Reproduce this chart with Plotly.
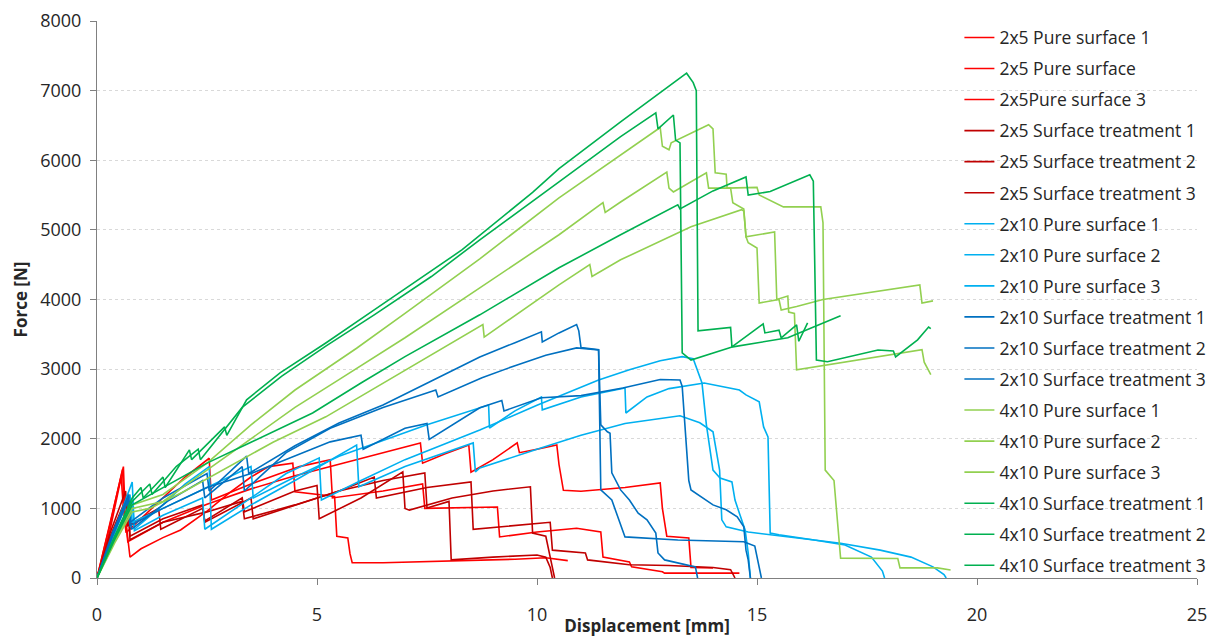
import plotly.graph_objects as go

# ---------------- data (displacement [mm], force [N]) ----------------
names = [
    "2x5 Pure surface 1", "2x5 Pure surface", "2x5Pure surface 3",
    "2x5 Surface treatment 1", "2x5 Surface treatment 2", "2x5 Surface treatment 3",
    "2x10 Pure surface 1", "2x10 Pure surface 2", "2x10 Pure surface 3",
    "2x10 Surface treatment 1", "2x10 Surface treatment 2", "2x10 Surface treatment 3",
    "4x10 Pure surface 1", "4x10 Pure surface 2", "4x10 Pure surface 3",
    "4x10 Surface treatment 1", "4x10 Surface treatment 2", "4x10 Surface treatment 3",
]
colors = ["#FF0000"] * 3 + ["#C00000"] * 3 + ["#00B0F0"] * 3 + ["#0070C0"] * 3 + ["#92D050"] * 3 + ["#00B050"] * 3

x_rp1 = [0, 0.3, 0.58, 0.62, 0.7, 1.5, 2.5, 3.5, 4.5, 5.5, 6.5, 7.35, 7.4, 7.9, 8.45, 8.5, 9.0, 9.55, 9.6, 10.0, 10.45, 10.5, 10.6, 11.0, 12.0, 12.8, 12.85, 12.95, 13.45, 13.5, 14.0]
f_rp1 = [0, 780, 1560, 1000, 520, 800, 1060, 1280, 1470, 1640, 1800, 1940, 1650, 1780, 1910, 1520, 1700, 1940, 1800, 1850, 1910, 1630, 1260, 1245, 1300, 1365, 1000, 600, 575, 150, 145]

x_rp2 = [0, 0.3, 0.6, 0.64, 0.75, 1.0, 1.5, 1.9, 2.5, 3.0, 3.5, 3.9, 4.45, 4.5, 5.0, 5.4, 5.45, 5.7, 5.75, 5.8, 6.5, 7.5, 8.5, 9.5, 10.2, 10.7]
f_rp2 = [0, 800, 1600, 900, 300, 420, 580, 690, 960, 1220, 1450, 1600, 1650, 1240, 1200, 1170, 600, 575, 350, 220, 220, 235, 250, 270, 290, 250]

x_rp3 = [0, 0.3, 0.55, 0.6, 0.66, 1.5, 2.0, 2.55, 2.6, 3.5, 4.6, 5.3, 5.35, 6.5, 7.4, 7.45, 8.2, 9.1, 9.15, 10.0, 10.9, 11.45, 11.5, 12.1, 12.15, 12.85, 12.9, 14.6]
f_rp3 = [0, 700, 1450, 1000, 650, 1150, 1450, 1720, 1120, 1350, 1600, 1700, 1150, 1250, 1350, 1000, 1010, 1020, 590, 660, 715, 660, 300, 230, 160, 90, 70, 70]

x_rs1 = [0, 0.3, 0.65, 0.7, 1.4, 1.45, 2.4, 2.45, 3.3, 3.35, 4.5, 5.0, 5.05, 6.0, 6.95, 7.0, 7.1, 8.07, 9.0, 9.85, 9.9, 10.2, 10.3, 10.4]
f_rs1 = [0, 650, 1250, 750, 1000, 700, 1000, 820, 1150, 950, 1250, 1330, 850, 1150, 1525, 1000, 975, 1150, 1250, 1310, 645, 600, 300, 0]

x_rs2 = [0, 0.3, 0.7, 0.75, 1.5, 2.4, 2.45, 3.5, 3.55, 4.5, 5.5, 6.5, 7.45, 7.5, 8.0, 8.05, 9.0, 10.0, 10.2, 10.3, 10.35]
f_rs2 = [0, 600, 1200, 600, 850, 1050, 800, 1150, 850, 1050, 1250, 1400, 1510, 1005, 1100, 260, 300, 330, 300, 150, 0]

x_rs3 = [0, 0.3, 0.7, 0.75, 1.5, 2.5, 3.3, 3.35, 4.5, 5.5, 6.3, 6.35, 7.5, 8.5, 8.55, 9.5, 10.3, 10.35, 11.1, 11.15, 12.1, 13.0, 14.0, 14.4, 14.5]
f_rs3 = [0, 550, 1100, 550, 800, 950, 1100, 850, 1050, 1250, 1450, 1150, 1300, 1380, 700, 750, 800, 400, 360, 260, 190, 180, 150, 120, 0]

x_lb1 = [0, 0.4, 0.8, 0.85, 1.5, 2.4, 2.45, 3.5, 4.3, 5.05, 5.1, 6.0, 7.0, 8.0, 8.7, 10.0, 11.4, 12.1, 12.8, 13.3, 13.55, 13.75, 13.85, 14.0, 14.16, 14.43, 14.5, 14.6, 14.73, 14.8, 14.85]
f_lb1 = [0, 700, 1380, 680, 900, 1150, 700, 1150, 1500, 1725, 1120, 1400, 1700, 1950, 2125, 2480, 2845, 2990, 3120, 3180, 3150, 2800, 2200, 1550, 1435, 1380, 1120, 930, 690, 360, 0]

x_lb2 = [0, 0.4, 0.75, 0.8, 1.5, 2.5, 3.5, 3.55, 4.5, 5.5, 6.5, 7.5, 8.9, 8.92, 9.5, 10.1, 10.12, 11.0, 12.0, 12.02, 12.5, 13.0, 13.8, 14.6, 14.75, 15.05, 15.15, 15.25, 15.3, 15.5, 16.3, 16.9, 17.8, 18.5, 19.0, 19.25, 19.3]
f_lb2 = [0, 650, 1200, 800, 1000, 1300, 1600, 1150, 1450, 1750, 1980, 2200, 2485, 2155, 2400, 2600, 2415, 2600, 2730, 2370, 2600, 2720, 2800, 2700, 2630, 2530, 2170, 2025, 645, 620, 545, 500, 400, 300, 160, 50, 0]

x_lb3 = [0, 0.4, 0.8, 0.85, 1.5, 2.0, 2.55, 2.6, 3.5, 4.5, 5.9, 5.95, 7.0, 8.55, 8.6, 8.7, 10.0, 11.0, 12.0, 13.25, 13.7, 14.0, 14.15, 14.2, 14.3, 14.8, 16.3, 17.0, 17.6, 17.85, 17.9]
f_lb3 = [0, 600, 1100, 700, 1050, 1350, 1600, 700, 1050, 1400, 1910, 1310, 1600, 1940, 1525, 1580, 1850, 2050, 2220, 2330, 2230, 2100, 1550, 835, 735, 660, 545, 475, 300, 100, 0]

x_b1 = [0, 0.35, 0.7, 0.75, 1.5, 2.5, 2.55, 3.4, 3.45, 4.5, 5.5, 6.5, 7.6, 8.7, 9.5, 10.1, 10.12, 10.5, 10.9, 10.95, 11.0, 11.4, 11.45, 11.6, 11.66, 11.7, 11.9, 12.1, 12.3, 12.5, 12.7, 12.75, 12.9, 13.25, 13.6, 13.65]
f_b1 = [0, 600, 1150, 800, 1150, 1500, 1250, 1750, 1500, 1900, 2225, 2485, 2830, 3175, 3380, 3535, 3390, 3520, 3640, 3550, 3310, 3280, 2200, 2100, 2080, 1510, 1265, 1120, 930, 835, 645, 360, 260, 215, 160, 0]

x_b2 = [0, 0.35, 0.72, 0.78, 1.6, 2.4, 2.45, 3.3, 3.35, 4.3, 5.3, 6.5, 7.7, 7.75, 8.75, 9.5, 10.2, 10.9, 11.4, 11.45, 11.7, 12.0, 13.2, 14.7, 14.95, 15.1]
f_b2 = [0, 650, 1200, 700, 1100, 1400, 1150, 1600, 1250, 1800, 2150, 2450, 2700, 2600, 2875, 3050, 3200, 3305, 3275, 1265, 1120, 590, 545, 520, 460, 0]

x_b3 = [0, 0.35, 0.7, 0.75, 1.5, 2.5, 3.5, 4.3, 5.3, 6.0, 6.05, 7.0, 7.5, 7.55, 8.7, 9.2, 9.25, 10.1, 11.0, 11.95, 12.8, 13.25, 13.3, 13.45, 13.5, 14.0, 14.3, 14.55, 14.7, 14.75, 14.8, 14.85]
f_b3 = [0, 600, 1100, 750, 1000, 1300, 1500, 1700, 1955, 2050, 1850, 2150, 2220, 1990, 2445, 2550, 2400, 2590, 2620, 2730, 2850, 2845, 2750, 1400, 1265, 1050, 980, 880, 735, 400, 260, 0]

x_lg1 = [0, 0.4, 0.8, 1.5, 2.5, 3.5, 4.5, 5.9, 7.0, 8.7, 10.5, 11.9, 12.8, 12.85, 13.0, 13.05, 13.9, 14.0, 14.05, 14.3, 14.32, 15.0, 15.05, 15.6, 16.45, 16.5, 16.55, 16.75, 16.9, 18.2, 18.25, 19.1, 19.4]
f_lg1 = [0, 550, 1050, 1200, 1650, 2200, 2700, 3300, 3800, 4584, 5460, 6080, 6470, 6200, 6150, 6250, 6510, 6450, 5820, 5800, 5600, 5610, 5500, 5330, 5330, 5100, 1550, 1400, 285, 280, 145, 145, 115]

x_lg2 = [0, 0.4, 0.8, 1.5, 2.5, 3.5, 4.5, 5.5, 7.0, 8.7, 10.5, 11.5, 11.55, 11.9, 12.95, 13.0, 13.1, 13.85, 13.9, 14.4, 14.45, 14.7, 14.75, 14.8, 15.0, 15.05, 15.5, 15.55, 15.9, 16.5, 17.5, 18.7, 18.75, 19.0]
f_lg2 = [0, 530, 1000, 1100, 1550, 2000, 2450, 2850, 3450, 4167, 4930, 5390, 5250, 5400, 5830, 5600, 5545, 5820, 5600, 5600, 5390, 5300, 4900, 4815, 4740, 3950, 4000, 3850, 3900, 4000, 4100, 4210, 3950, 3980]

x_lg3 = [0, 0.4, 0.8, 1.2, 2.0, 3.0, 4.0, 5.2, 6.5, 7.7, 8.77, 8.8, 10.5, 11.2, 11.25, 11.9, 13.5, 14.65, 14.7, 14.75, 15.4, 15.45, 15.7, 15.72, 15.85, 15.9, 17.0, 18.75, 18.8, 18.95]
f_lg3 = [0, 500, 950, 1000, 1250, 1600, 1950, 2315, 2800, 3250, 3640, 3460, 4210, 4500, 4330, 4570, 5045, 5290, 5270, 4900, 4970, 4000, 4050, 3820, 3800, 2990, 3100, 3280, 3100, 2920]

x_g1 = [0, 0.4, 0.8, 1.0, 1.05, 1.5, 1.55, 2.1, 2.15, 2.9, 2.95, 3.4, 4.16, 5.2, 6.3, 7.2, 8.3, 9.9, 10.5, 11.9, 12.5, 13.0, 13.4, 13.55, 13.62, 13.66, 14.4, 14.43, 15.14, 15.18, 15.5, 15.55, 15.9, 15.95, 16.15]
f_g1 = [0, 600, 1150, 1300, 1150, 1450, 1300, 1840, 1700, 2170, 2050, 2560, 2945, 3375, 3850, 4240, 4715, 5540, 5880, 6550, 6830, 7060, 7250, 7115, 7000, 3550, 3600, 3320, 3650, 3520, 3560, 3450, 3635, 3400, 3665]

x_g2 = [0, 0.4, 0.8, 1.2, 1.25, 1.8, 2.3, 2.35, 3.3, 4.2, 5.2, 6.3, 7.6, 8.7, 10.5, 11.9, 12.7, 12.75, 13.1, 13.15, 13.25, 13.3, 13.5, 14.45, 15.7, 16.9]
f_g2 = [0, 580, 1100, 1350, 1200, 1600, 1850, 1700, 2450, 2900, 3330, 3780, 4330, 4857, 5690, 6340, 6680, 6450, 6650, 6290, 6250, 3235, 3130, 3320, 3450, 3765]

x_g3 = [0, 0.4, 0.8, 1.5, 2.5, 3.5, 4.9, 6.0, 7.0, 8.7, 10.5, 11.9, 13.2, 13.25, 14.0, 14.75, 14.8, 15.3, 16.2, 16.28, 16.3, 16.35, 16.6, 17.75, 18.1, 18.15, 18.65, 18.9, 18.95]
f_g3 = [0, 550, 1050, 1300, 1650, 1950, 2370, 2800, 3180, 3780, 4455, 4930, 5360, 5300, 5560, 5760, 5500, 5550, 5790, 5700, 4760, 3130, 3105, 3275, 3260, 3175, 3420, 3605, 3580]

xs = [x_rp1, x_rp2, x_rp3, x_rs1, x_rs2, x_rs3, x_lb1, x_lb2, x_lb3,
      x_b1, x_b2, x_b3, x_lg1, x_lg2, x_lg3, x_g1, x_g2, x_g3]
fs = [f_rp1, f_rp2, f_rp3, f_rs1, f_rs2, f_rs3, f_lb1, f_lb2, f_lb3,
      f_b1, f_b2, f_b3, f_lg1, f_lg2, f_lg3, f_g1, f_g2, f_g3]

x_ticks = [0, 5, 10, 15, 20, 25]
y_ticks = [0, 1000, 2000, 3000, 4000, 5000, 6000, 7000, 8000]

# ---------------- figure ----------------
fig = go.Figure()
for i, (nm, xx, ff, col) in enumerate(zip(names, xs, fs, colors)):
    fig.add_trace(go.Scatter(x=xx, y=ff, mode="lines", name=nm,
                             legendgroup="g%02d" % i,
                             line=dict(color=col, width=1.6)))

font_family = "Open Sans, Liberation Sans, sans-serif"
fig.update_layout(
    width=1220, height=637,
    margin=dict(l=97, r=23, t=21, b=59, autoexpand=False),
    paper_bgcolor="white", plot_bgcolor="white",
    font=dict(family=font_family, color="#262626"),
    showlegend=True,
    legend=dict(x=0.784, xanchor="left", y=1.0026, yanchor="top",
                bgcolor="rgba(0,0,0,0)", font=dict(size=17.5, color="#262626"),
                tracegroupgap=5.3, traceorder="grouped", maxheight=637),
    xaxis=dict(range=[0, 25], tickvals=x_ticks, ticks="outside", ticklen=6,
               tickcolor="#808080", showline=True, linecolor="#808080",
               linewidth=1, showgrid=False, zeroline=False,
               tickfont=dict(size=18, color="#262626"), ticklabelstandoff=14,
               title=dict(text="<b>Displacement [mm]</b>", font=dict(size=17, color="#262626"),
                          standoff=8)),
    yaxis=dict(range=[0, 8000], tickvals=y_ticks, ticks="outside", ticklen=6,
               tickcolor="#808080", showline=True, linecolor="#808080",
               linewidth=1, showgrid=True, gridcolor="#D9D9D9", griddash="3px,3px",
               gridwidth=1, zeroline=False,
               tickfont=dict(size=18, color="#262626"), ticklabelstandoff=5,
               title=dict(text="<b>Force [N]</b>", font=dict(size=17, color="#262626"),
                          standoff=8)),
)
fig.write_html("out.html", config={"displayModeBar": False})
